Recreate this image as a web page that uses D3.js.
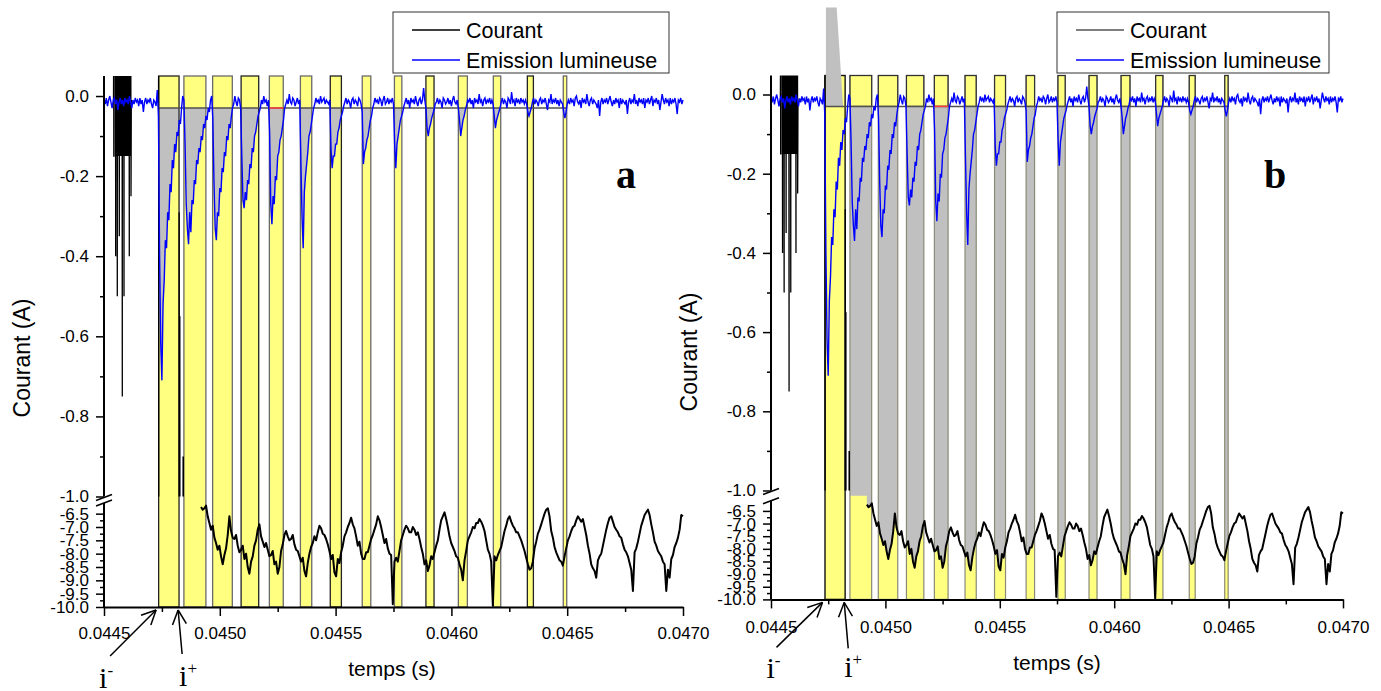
<!DOCTYPE html>
<html><head><meta charset="utf-8">
<script src="https://cdnjs.cloudflare.com/ajax/libs/d3/7.8.5/d3.min.js"></script>
<style>body{margin:0;background:#fff}svg{display:block}</style>
</head><body>
<svg id="c" width="1381" height="691"></svg>
<script>
// ---------------- DATA ----------------
const xTicks = [0.0445, 0.0450, 0.0455, 0.0460, 0.0465, 0.0470];
const xMinorTicks = [0.04475, 0.04525, 0.04575, 0.04625, 0.04675];
const yUpTicks = [0.0, -0.2, -0.4, -0.6, -0.8, -1.0];
const yUpMinor = [-0.1, -0.3, -0.5, -0.7, -0.9];
const yLowTicks = [-6.5, -7.0, -7.5, -8.0, -8.5, -9.0, -9.5, -10.0];
const yLowMinor = [-6.75, -7.25, -7.75, -8.25, -8.75, -9.25, -9.75];
const seriesNames = ["Courant", "Emission lumineuse"];

// pulse windows (s)
const barStart = [0.044736, 0.044845, 0.044969, 0.045092, 0.045214, 0.045348, 0.045477, 0.045615, 0.045754, 0.045890, 0.046030, 0.046181, 0.046328, 0.046483];
const barEnd   = [0.044824, 0.044940, 0.045054, 0.045168, 0.045274, 0.045397, 0.045525, 0.045652, 0.045786, 0.045925, 0.046069, 0.046213, 0.046354, 0.046498];
const baselineLevel = -0.03;
const redBarIndex = 4;

// light emission, sampled every 5 µs from 0.0445 s
const emissionT0 = 0.0445, emissionDt = 5e-6;
const emission = [
-0.01,-0.02,-0.005,-0.025,-0.01,0.0,-0.015,-0.03,-0.01,-0.005,
-0.02,-0.01,-0.035,-0.015,-0.005,-0.02,-0.01,-0.025,-0.005,-0.015,
-0.01,-0.02,0.0,-0.015,-0.03,-0.01,-0.02,-0.005,-0.015,-0.01,
-0.025,-0.005,-0.02,-0.01,-0.04,-0.015,-0.005,-0.02,-0.01,-0.015,
-0.005,-0.02,-0.03,-0.01,-0.015,-0.025,0.015,-0.05,-0.4,-0.62,
-0.71,-0.52,-0.46,-0.36,-0.38,-0.29,-0.31,-0.22,-0.24,-0.16,
-0.18,-0.12,-0.14,-0.09,-0.1,-0.06,-0.07,-0.03,0.0,-0.01,
-0.12,-0.27,-0.33,-0.37,-0.29,-0.34,-0.26,-0.27,-0.21,-0.22,
-0.16,-0.17,-0.13,-0.14,-0.1,-0.11,-0.07,-0.08,-0.05,-0.06,
-0.03,-0.04,-0.01,0.0,-0.06,-0.22,-0.33,-0.36,-0.29,-0.3,
-0.23,-0.24,-0.18,-0.19,-0.14,-0.15,-0.1,-0.11,-0.07,-0.08,
-0.05,-0.03,-0.02,0.0,-0.015,-0.025,-0.005,-0.01,-0.03,-0.15,
-0.26,-0.28,-0.24,-0.26,-0.21,-0.22,-0.17,-0.18,-0.13,-0.14,
-0.1,-0.09,-0.07,-0.05,-0.04,-0.03,-0.01,-0.02,0.0,-0.015,
-0.01,-0.025,-0.01,-0.09,-0.27,-0.32,-0.25,-0.27,-0.2,-0.21,
-0.15,-0.14,-0.11,-0.1,-0.08,-0.06,-0.03,-0.02,-0.01,-0.02,
0.005,-0.015,-0.02,-0.005,-0.01,-0.025,-0.015,-0.005,-0.02,-0.01,
-0.16,-0.3,-0.38,-0.24,-0.2,-0.17,-0.14,-0.1,-0.09,-0.07,
-0.05,-0.03,-0.02,-0.005,-0.015,-0.01,-0.02,0.0,-0.015,-0.01,
-0.005,-0.02,-0.01,-0.015,-0.02,-0.01,-0.13,-0.18,-0.15,-0.15,
-0.12,-0.12,-0.09,-0.08,-0.06,-0.05,-0.04,-0.025,-0.015,-0.005,
-0.02,-0.01,-0.015,-0.03,-0.01,-0.005,-0.02,-0.01,-0.015,-0.025,
-0.005,-0.01,-0.02,-0.04,-0.17,-0.14,-0.13,-0.11,-0.1,-0.08,
-0.06,-0.05,-0.03,-0.02,-0.005,-0.015,-0.01,-0.02,-0.005,-0.01,
-0.025,-0.01,0.0,-0.02,-0.015,-0.005,-0.02,-0.01,-0.015,-0.005,
-0.02,-0.12,-0.18,-0.12,-0.1,-0.08,-0.06,-0.05,-0.04,-0.025,
-0.015,-0.005,-0.02,-0.01,-0.03,-0.005,-0.015,-0.01,-0.02,0.0,
-0.015,-0.025,-0.01,-0.005,-0.02,-0.01,0.02,-0.01,-0.03,-0.08,
-0.1,-0.08,-0.07,-0.055,-0.045,-0.035,-0.02,-0.015,-0.005,-0.02,
-0.01,-0.015,-0.03,-0.005,-0.01,-0.02,-0.015,-0.005,-0.02,-0.01,
-0.025,-0.01,0.0,-0.015,-0.02,-0.01,-0.03,-0.06,-0.1,-0.08,
-0.06,-0.05,-0.035,-0.025,-0.01,-0.015,-0.005,-0.02,-0.01,-0.03,
-0.005,-0.015,-0.01,-0.02,0.005,-0.015,-0.01,-0.025,-0.01,-0.005,
-0.02,-0.01,-0.015,-0.005,-0.02,-0.01,-0.02,-0.05,-0.08,-0.06,
-0.05,-0.04,-0.03,-0.015,-0.005,-0.02,-0.01,-0.015,-0.03,-0.005,
-0.01,-0.02,0.01,-0.015,-0.01,-0.025,-0.005,-0.015,-0.01,-0.02,
-0.005,-0.015,-0.01,-0.02,-0.01,-0.02,-0.04,-0.05,-0.04,-0.03,
-0.015,-0.005,-0.02,-0.01,-0.015,-0.025,-0.01,-0.005,-0.02,-0.01,
-0.015,-0.005,-0.02,-0.035,-0.01,-0.015,0.005,-0.02,-0.01,-0.015,
-0.005,-0.02,-0.01,-0.025,-0.01,-0.015,-0.02,-0.04,-0.055,-0.04,
-0.02,-0.01,-0.02,-0.005,-0.015,-0.01,-0.025,-0.005,0.0,-0.015,
-0.02,-0.01,-0.03,-0.005,-0.015,-0.01,-0.02,0.005,-0.015,-0.025,
-0.01,-0.005,-0.02,-0.01,-0.015,-0.02,-0.03,-0.01,-0.05,-0.015,
-0.005,-0.02,-0.01,-0.015,-0.005,-0.02,-0.01,0.0,-0.015,-0.025,
-0.01,-0.02,-0.005,-0.015,-0.01,-0.03,-0.005,-0.02,-0.01,-0.015,
-0.02,-0.01,-0.045,-0.015,-0.005,-0.02,-0.01,-0.015,0.005,-0.02,
-0.01,-0.025,-0.005,-0.015,-0.01,-0.02,-0.005,-0.03,-0.01,-0.015,
-0.005,-0.02,-0.01,0.0,-0.025,-0.01,-0.015,-0.005,-0.02,-0.01,
-0.035,-0.015,0.005,-0.01,-0.02,-0.005,-0.015,-0.01,-0.025,-0.005,
-0.02,-0.01,-0.015,-0.005,-0.02,-0.045,-0.01,-0.015,-0.005,-0.02,
-0.01];

// current, lower (broken) segment, sampled every 7.2 µs from 0.044919 s
const currentLowT0 = 0.044919, currentLowDt = 7.2e-6;
const currentLow = [
-6.25,-6.35,-6.30,-6.20,-6.6,-6.85,-7.1,-6.95,-7.4,-7.6,
-7.85,-7.7,-8.1,-8.4,-8.05,-7.8,-7.3,-6.6,-7.15,-7.4,
-7.45,-7.3,-7.7,-7.95,-7.85,-7.7,-8.2,-8.0,-8.5,-8.75,
-8.3,-8.1,-7.7,-7.5,-7.1,-6.9,-7.35,-7.55,-7.75,-7.6,
-7.85,-8.1,-8.05,-7.9,-8.4,-8.3,-8.75,-8.5,-7.9,-7.65,
-7.3,-7.15,-7.35,-7.5,-7.45,-7.3,-7.65,-7.85,-7.9,-8.1,
-8.3,-8.15,-8.65,-8.85,-8.35,-8.0,-7.75,-7.6,-7.35,-7.5,
-7.2,-6.95,-7.05,-7.25,-7.3,-7.45,-7.65,-7.9,-8.2,-8.05,
-8.7,-8.85,-8.2,-8.35,-7.95,-7.7,-7.35,-7.2,-7.0,-6.85,
-6.65,-6.9,-7.05,-7.35,-7.7,-7.55,-8.0,-8.2,-8.2,-7.95,
-7.95,-7.7,-7.45,-7.3,-7.1,-6.9,-6.6,-6.75,-7.0,-7.3,
-7.6,-7.45,-7.8,-8.0,-8.05,-9.9,-8.3,-8.15,-8.3,-7.9,
-7.5,-7.3,-7.1,-6.95,-7.05,-7.2,-7.2,-7.0,-7.1,-7.3,
-7.2,-7.45,-7.75,-8.0,-8.4,-8.25,-8.65,-8.45,-8.1,-8.2,
-7.95,-7.7,-7.5,-7.1,-6.75,-6.6,-6.45,-6.7,-7.0,-7.35,
-7.6,-7.75,-7.9,-8.1,-8.15,-8.4,-8.6,-9.0,-8.25,-7.9,
-7.5,-7.35,-7.2,-7.0,-7.05,-6.85,-6.85,-6.7,-6.8,-6.95,
-7.15,-7.5,-7.85,-8.0,-8.3,-9.95,-8.1,-8.25,-8.05,-7.9,
-7.75,-7.45,-7.15,-6.95,-6.7,-6.6,-6.8,-6.95,-7.05,-7.2,
-7.2,-7.35,-7.5,-7.7,-7.9,-8.15,-8.4,-8.6,-8.55,-8.3,
-7.8,-7.55,-7.25,-7.1,-6.9,-6.7,-6.5,-6.35,-6.3,-6.6,
-7.15,-7.4,-7.75,-7.95,-8.1,-8.25,-8.3,-8.45,-8.1,-7.8,
-7.5,-7.35,-7.15,-7.0,-6.95,-6.75,-6.6,-6.7,-6.8,-6.7,
-7.0,-7.3,-7.7,-8.0,-8.4,-8.55,-8.65,-8.9,-8.25,-8.1,
-8.0,-7.7,-7.4,-7.1,-6.85,-6.65,-6.6,-6.8,-7.0,-7.1,
-7.2,-7.35,-7.4,-7.65,-7.85,-7.95,-8.1,-8.35,-8.6,-9.4,
-7.95,-7.8,-7.55,-7.25,-6.95,-6.75,-6.55,-6.45,-6.35,-6.55,
-6.9,-7.2,-7.55,-7.7,-7.9,-8.0,-8.1,-8.3,-8.4,-9.4,
-8.6,-8.9,-8.2,-8.05,-7.75,-7.6,-7.4,-7.1,-6.55,-6.6];

// current, upper segment (µs after 0.0445 s); NaN = gap
const currentUpUs = [41,42,42.3,43.2,43.5,49.6,50.5,50.8,53.1,54.0,54.3,56.5,57.4,57.7,60.4,61.3,61.6,65.2,66.1,66.4,69.5,70.4,70.7,73.8,74.7,75.0,78.1,79.0,79.3,82.0,82.9,83.2,85.5,86.4,86.7,89.8,90.7,91.0,94.1,95.0,95.3,98.4,99.3,99.6,102.7,103.6,103.9,108.3,109.2,109.5,112.7,113.6,113.9,115.7,116.6,118,
  NaN, 235.5,236,236.6,324,324.6,325.3,326,326.7,327.4,328.1,341,341.5,342,342.5,343];
const currentUpV = [-0.01,0.15,-0.15,-0.15,0.15,0.15,-0.4,0.15,0.15,-0.15,0.15,0.15,-0.5,0.15,0.15,-0.15,0.15,0.15,-0.35,0.15,0.15,-0.15,0.15,0.15,-0.15,0.15,0.15,-0.75,0.15,0.15,-0.15,0.15,0.15,-0.5,0.15,0.15,-0.15,0.15,0.15,-0.15,0.15,0.15,-0.15,0.15,0.15,-0.15,0.15,0.15,-0.4,0.15,0.15,-0.15,0.15,0.15,-0.25,-0.01,
  NaN, -0.01,0.15,-1.5,-1.5,-0.29,-1.5,-0.55,-1.5,-0.55,-1.5,-1.5,-0.9,-1.5,-0.9,-1.5];

// grey wedge (panel b) above first pulse
const wedgeT = [0.044740, 0.044787, 0.044815, 0.044740];
const wedgeV = [0.22, 0.22, -0.03, -0.03];

const iMinusT = 0.044725, iPlusT = 0.04482;

// ---------------- DRAW ----------------
const SANS = '"Liberation Sans", Arial, sans-serif';
const SERIF = '"Liberation Serif", "Times New Roman", serif';
const YELLOW = '#FFFF80', GREY = '#C0C0C0', BLUE = '#0000FF';
const svg = d3.select('#c');
const defs = svg.append('defs');

const panels = [
 {id:'a', x0:104, x1:683, upTop:76, upBot:496.5, upDom:[-1,0.05], lowTop:503, lowBot:607, lowDom:[-10,-6.1],
  legX:393, legW:276, legLineColor:'#000', label:'a', labelX:616, titleX:30, titleY:358, tempsX:392, tempsY:676, xPad:11,
  iMinusD:[-46,46], iPlusD:[4,44], iMinusL:[-11,32], iPlusL:[-3,32]},
 {id:'b', x0:771, x1:1343, upTop:75.5, upBot:490.5, upDom:[-1,0.048], lowTop:500.8, lowBot:599.4, lowDom:[-10,-6.1],
  legX:1057, legW:272, legLineColor:'#555', label:'b', labelX:1264, titleX:697, titleY:352, tempsX:1057, tempsY:670, xPad:12.5,
  iMinusD:[-46,45], iPlusD:[4,46], iMinusL:[-10,31], iPlusL:[-4,29]}
];

const emData = emission.map((v,i)=>({t: emissionT0 + i*emissionDt, v}));
const curLowData = currentLow.map((v,i)=>({t: currentLowT0 + i*currentLowDt, v}));
const curUpData = currentUpUs.map((u,i)=>({t: 0.0445 + u*1e-6, v: currentUpV[i]}));
const bars = barStart.map((s,i)=>({s, e: barEnd[i], i}));

panels.forEach(P => {
  const g = svg.append('g');
  const x = d3.scaleLinear().domain([xTicks[0], xTicks[xTicks.length-1]]).range([P.x0, P.x1]);
  const yU = d3.scaleLinear().domain(P.upDom).range([P.upBot, P.upTop]);
  const yL = d3.scaleLinear().domain(P.lowDom).range([P.lowBot, P.lowTop]);
  const gapMid = (P.upBot + P.lowTop)/2;

  defs.append('clipPath').attr('id', P.id+'up').append('rect')
    .attr('x', P.x0).attr('y', P.upTop).attr('width', P.x1-P.x0).attr('height', P.upBot-P.upTop);
  defs.append('clipPath').attr('id', P.id+'low').append('rect')
    .attr('x', P.x0).attr('y', P.lowTop).attr('width', P.x1-P.x0+2).attr('height', P.lowBot-P.lowTop);
  const clipBars = P.id==='a' ? bars : bars.slice(1);
  defs.append('clipPath').attr('id', P.id+'bars').selectAll('rect').data(clipBars).join('rect')
    .attr('x', d=>x(d.s)).attr('width', d=>x(d.e)-x(d.s)).attr('y', 0).attr('height', P.lowBot);

  // yellow bars (full height)
  g.append('g').selectAll('rect').data(bars).join('rect')
    .attr('x', d=>x(d.s)).attr('width', d=>x(d.e)-x(d.s))
    .attr('y', P.upTop).attr('height', P.lowBot-P.upTop).attr('fill', YELLOW);

  if (P.id==='a') {
    const area = d3.area().x(d=>x(d.t)).y0(yU(baselineLevel)).y1(d=>yU(Math.min(d.v, baselineLevel)));
    g.append('path').datum(emData).attr('d', area).attr('fill', GREY).attr('clip-path', `url(#${P.id}bars)`);
    g.append('g').selectAll('rect').data(bars).join('rect')
      .attr('x', d=>x(d.s)).attr('width', d=>x(d.e)-x(d.s))
      .attr('y', P.upTop).attr('height', P.lowBot-P.upTop)
      .attr('fill','none').attr('stroke', (d,i)=> i%3===0 ? '#222' : '#6a6a6a').attr('stroke-width', 1.3);
  } else {
    const pts = [{t: barStart[1], y: gapMid}, {t: currentLowT0 - 1e-7, y: gapMid}]
      .concat(curLowData.map(d=>({t:d.t, y:yL(d.v)})));
    const area = d3.area().x(d=>x(d.t)).y0(yU(baselineLevel)).y1(d=>d.y);
    g.append('path').datum(pts).attr('d', area).attr('fill', GREY).attr('clip-path', `url(#${P.id}bars)`);
    g.append('g').selectAll('rect').data(bars.slice(1)).join('rect')
      .attr('x', d=>x(d.s)).attr('width', d=>x(d.e)-x(d.s))
      .attr('y', P.upTop).attr('height', P.lowBot-P.upTop)
      .attr('fill','none').attr('stroke', '#8a8a78').attr('stroke-width', 1.2);
    g.append('g').selectAll('rect').data(bars.slice(1)).join('rect')
      .attr('x', d=>x(d.s)).attr('width', d=>x(d.e)-x(d.s))
      .attr('y', P.upTop).attr('height', yU(baselineLevel)-P.upTop)
      .attr('fill','none').attr('stroke', '#333').attr('stroke-width', 1.2);
    g.append('rect').attr('x', x(barStart[0])).attr('width', x(barEnd[0])-x(barStart[0]))
      .attr('y', P.upTop).attr('height', P.lowBot-P.upTop)
      .attr('fill','none').attr('stroke', '#111').attr('stroke-width', 1.4);
    g.append('path').datum(wedgeT.map((t,i)=>({t, v: wedgeV[i]})))
      .attr('d', d3.line().x(d=>x(d.t)).y(d=>yU(d.v)).curve(d3.curveLinearClosed))
      .attr('fill', GREY);
  }

  // baseline and red segment
  g.append('line').attr('x1', x(barStart[0])).attr('x2', x(barEnd[barEnd.length-1]))
    .attr('y1', yU(baselineLevel)).attr('y2', yU(baselineLevel)).attr('stroke', '#505050').attr('stroke-width', 1.5);
  g.append('line').attr('x1', x(barStart[redBarIndex])).attr('x2', x(barEnd[redBarIndex]))
    .attr('y1', yU(baselineLevel)).attr('y2', yU(baselineLevel)).attr('stroke', '#ff4040').attr('stroke-width', 1.5);

  // current
  g.append('path').datum(curUpData)
    .attr('d', d3.line().defined(d=>!isNaN(d.v)).x(d=>x(d.t)).y(d=>yU(d.v)))
    .attr('fill','none').attr('stroke','#000').attr('stroke-width', 1.3).attr('clip-path', `url(#${P.id}up)`);
  g.append('path').datum(curLowData)
    .attr('d', d3.line().x(d=>x(d.t)).y(d=>yL(d.v)))
    .attr('fill','none').attr('stroke','#000').attr('stroke-width', 2).attr('stroke-linejoin','round')
    .attr('clip-path', `url(#${P.id}low)`);

  // emission
  g.append('path').datum(emData)
    .attr('d', d3.line().x(d=>x(d.t)).y(d=>yU(d.v)))
    .attr('fill','none').attr('stroke', BLUE).attr('stroke-width', 1.4);

  // ---- axes ----
  const styleAxis = (sel, fs) => {
    sel.selectAll('path.domain').attr('stroke','#000').attr('stroke-width', 2);
    sel.selectAll('line').attr('stroke','#000').attr('stroke-width', 1.5);
    sel.selectAll('text').attr('font-family', SANS).attr('font-size', fs).attr('fill','#000');
  };
  const fmt1 = v => v.toFixed(1);
  const ax = g.append('g').attr('transform', `translate(0,${P.lowBot})`)
    .call(d3.axisBottom(x).tickValues(xTicks).tickFormat(v=>v.toFixed(4)).tickSize(9).tickPadding(P.xPad).tickSizeOuter(0));
  styleAxis(ax, 17);
  const axm = g.append('g').attr('transform', `translate(0,${P.lowBot})`)
    .call(d3.axisBottom(x).tickValues(xMinorTicks).tickFormat('').tickSize(5).tickSizeOuter(0));
  axm.select('path.domain').remove(); styleAxis(axm, 17);

  const ayU = g.append('g').attr('transform', `translate(${P.x0},0)`)
    .call(d3.axisLeft(yU).tickValues(yUpTicks).tickFormat(fmt1).tickSize(8).tickPadding(7).tickSizeOuter(0));
  ayU.select('path.domain').attr('d', `M0,${P.upBot}V${P.upTop}`);
  styleAxis(ayU, 17);
  const ayUm = g.append('g').attr('transform', `translate(${P.x0},0)`)
    .call(d3.axisLeft(yU).tickValues(yUpMinor).tickFormat('').tickSize(4).tickSizeOuter(0));
  ayUm.select('path.domain').remove(); styleAxis(ayUm, 17);

  const ayL = g.append('g').attr('transform', `translate(${P.x0},0)`)
    .call(d3.axisLeft(yL).tickValues(yLowTicks).tickFormat(fmt1).tickSize(8).tickPadding(7).tickSizeOuter(0));
  ayL.select('path.domain').attr('d', `M0,${P.lowBot}V${P.lowTop}`);
  styleAxis(ayL, 17);
  const ayLm = g.append('g').attr('transform', `translate(${P.x0},0)`)
    .call(d3.axisLeft(yL).tickValues(yLowMinor).tickFormat('').tickSize(4).tickSizeOuter(0));
  ayLm.select('path.domain').remove(); styleAxis(ayLm, 17);

  // break marks
  [P.upBot + 1, P.lowTop].forEach(cy => {
    g.append('line').attr('x1', P.x0-8).attr('y1', cy+3).attr('x2', P.x0+8).attr('y2', cy-3)
      .attr('stroke','#000').attr('stroke-width', 1.5);
  });

  // titles
  g.append('text').attr('transform', `translate(${P.titleX},${P.titleY}) rotate(-90)`)
    .attr('text-anchor','middle').attr('font-family', SANS).attr('font-size', 23).text('Courant (A)');
  g.append('text').attr('x', P.tempsX).attr('y', P.tempsY).attr('text-anchor','middle')
    .attr('font-family', SANS).attr('font-size', 21).text('temps (s)');
  g.append('text').attr('x', P.labelX).attr('y', 188).attr('font-family', SERIF)
    .attr('font-weight','bold').attr('font-size', 40).text(P.label);

  // legend
  const lg = g.append('g');
  lg.append('rect').attr('x', P.legX).attr('y', 12).attr('width', P.legW).attr('height', 61)
    .attr('fill','#fff').attr('stroke','#333').attr('stroke-width', 1);
  [[P.legLineColor, 30, 38], [BLUE, 60, 68]].forEach((r, i) => {
    lg.append('line').attr('x1', P.legX+19).attr('x2', P.legX+67).attr('y1', r[1]).attr('y2', r[1])
      .attr('stroke', r[0]).attr('stroke-width', 1.3);
    lg.append('text').attr('x', P.legX+73).attr('y', r[2]).attr('font-family', SANS).attr('font-size', 21.5)
      .text(seriesNames[i]);
  });

  // i- / i+ annotations
  const arrow = (t, d, lab, sup) => {
    const tx = x(t), ty = P.lowBot + 3;
    const sx = tx + d[0], sy = ty + d[1];
    const ang = Math.atan2(ty - sy, tx - sx);
    const a = g.append('g').attr('stroke','#000').attr('stroke-width', 1.5).attr('fill','none');
    a.append('line').attr('x1', sx).attr('y1', sy).attr('x2', tx).attr('y2', ty);
    [0.45, -0.45].forEach(k => {
      a.append('line').attr('x1', tx).attr('y1', ty)
        .attr('x2', tx - 16*Math.cos(ang + k)).attr('y2', ty - 16*Math.sin(ang + k));
    });
    const tt = g.append('text').attr('x', sx + lab[0]).attr('y', sy + lab[1])
      .attr('font-family', SERIF).attr('font-size', 30);
    tt.append('tspan').text('i');
    tt.append('tspan').attr('font-size', 17).attr('dy', -12).text(sup);
  };
  arrow(iMinusT, P.iMinusD, P.iMinusL, '-');
  arrow(iPlusT, P.iPlusD, P.iPlusL, '+');
});
</script>
</body></html>
